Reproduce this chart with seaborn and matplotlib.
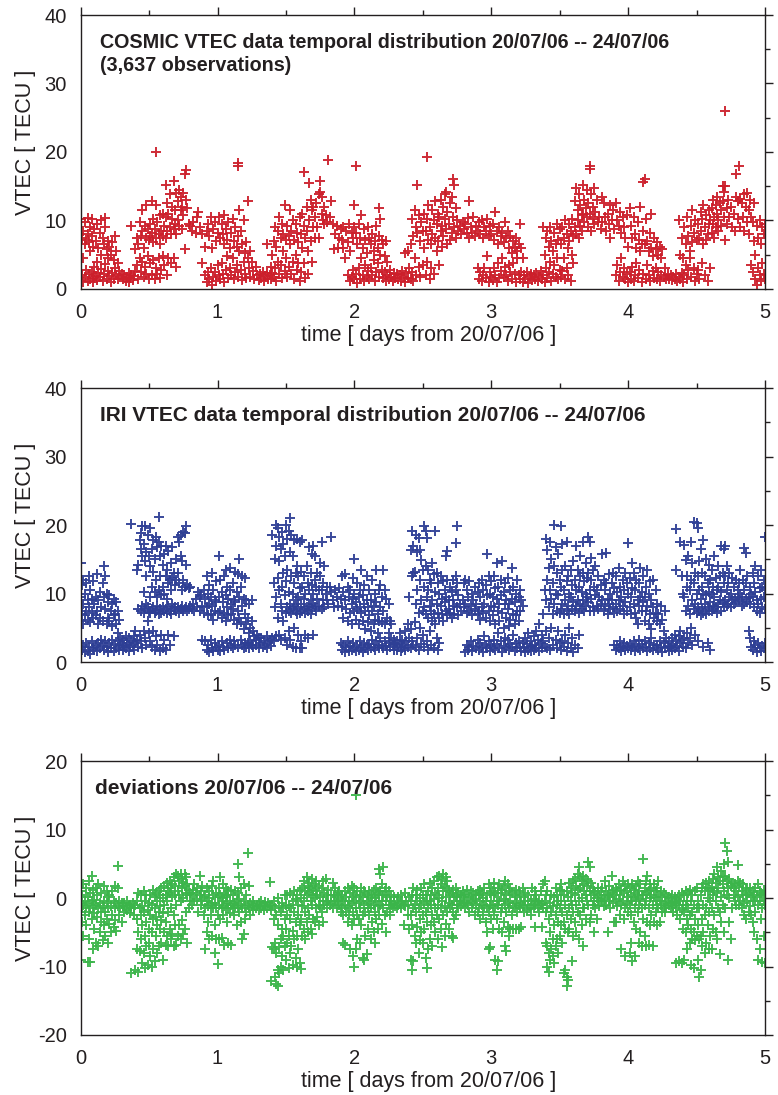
import matplotlib
matplotlib.use("Agg")
import matplotlib.pyplot as plt
import seaborn as sns
import pandas as pd
from matplotlib.ticker import MultipleLocator

cosmic_obs = [
(0.00,10.2),(0.01,7.5,2.0),(0.02,8.5,4.5,1.0),(0.03,9.8,6.5,1.8),(0.04,7.2,2.8),(0.05,10.3,8.0,1.2),(0.06,6.8,2.2),(0.07,9.0,5.5,1.5),(0.08,10.2,7.8,2.5),(0.09,6.2,1.0),(0.10,8.8,3.2,1.6),
(0.11,7.0,1.9),(0.12,9.5,4.0,1.3),(0.13,6.0,2.4),(0.14,8.2,1.7),(0.15,10.0,5.0,2.9),(0.16,7.4,1.2),(0.17,6.5,2.2),(0.18,10.3,9.0,3.6),(0.19,5.8,1.5),(0.20,7.0,4.5,2.6),
(0.21,6.2,1.9),(0.22,5.0,1.0),(0.23,6.8,2.3),(0.24,4.2,1.5),(0.25,7.7,3.0),(0.26,5.5,2.0),(0.27,3.8,1.4),(0.28,2.6),(0.29,1.8),(0.30,2.2),
(0.31,1.5),(0.32,2.0),(0.33,1.2),(0.34,1.8),(0.35,2.4,1.0),(0.36,1.6),(0.37,9.2,2.1),(0.38,1.3),(0.39,1.9),(0.40,5.8,2.6),
(0.41,7.5,3.5),(0.42,6.5,1.5),(0.43,9.8,4.5),(0.44,7.8,2.5),(0.45,11.5,8.5,4.0),(0.46,6.0,1.8),(0.47,9.2,3.2),(0.48,12.3,7.5,2.2),(0.49,8.8,4.8),(0.50,7.2,1.4),
(0.51,9.5,7.8,3.8),(0.52,12.8,8.2,2.0),(0.53,10.2,6.8,4.2),(0.54,8.8,1.5),(0.55,20.0,12.2,7.5,3.0),(0.56,9.8,2.2),(0.57,8.0,4.5),(0.58,10.8,6.5,1.6),(0.59,8.5,2.8),(0.60,11.0,7.8,4.8),
(0.61,9.2,3.5),(0.62,15.2,10.5,7.5),(0.63,12.5,8.5,2.0),(0.64,11.0,4.5),(0.65,13.8,9.0),(0.66,8.0,3.8),(0.67,12.0,10.2),(0.68,15.8,8.8,4.5),(0.69,11.5,9.5),(0.70,14.0,8.0,3.2),
(0.71,12.8,10.0),(0.72,14.5,9.2),(0.73,13.5,11.5),(0.74,12.0,8.8),(0.75,14.0,10.8),(0.76,16.8,5.8),(0.77,17.3,13.0),(0.78,11.8),(0.79,9.5),(0.80,9.2),
(0.81,8.5),(0.82,9.8),(0.84,8.2),(0.85,10.5),(0.86,11.2),(0.87,9.0),(0.89,8.0,3.8),
(0.91,6.2,2.0),(0.92,8.5,1.0),(0.93,9.5,2.5),(0.94,7.8,1.5),(0.95,10.5,3.0),(0.96,6.0,0.6),(0.97,8.8,1.8),(0.98,9.8,2.5),(0.99,7.0,1.2),(1.00,8.2,3.5),
(1.01,10.5,2.0),(1.02,7.5,1.4),(1.03,9.5,3.8),(1.04,8.0,2.2),(1.05,10.8,6.5,1.0),(1.06,8.8,2.8),(1.07,7.2,4.8),(1.08,9.8,1.6),(1.09,6.0,3.0),(1.10,8.2,2.0),
(1.11,10.2,4.5),(1.12,7.0,1.5),(1.13,9.0,2.5),(1.14,6.2,3.5),(1.15,18.4,17.9,7.8,1.8),(1.16,11.5,5.5),(1.17,8.5,2.8),(1.18,6.5,1.3),(1.19,10.0,4.0),(1.20,5.2,2.2),
(1.21,6.8,1.6),(1.22,12.8,4.5),(1.23,3.0),(1.24,5.5,1.8),(1.25,4.0),(1.26,2.6),(1.27,1.5),(1.28,3.2),(1.29,2.0),(1.30,1.3),
(1.31,2.2),(1.32,1.6),(1.33,2.5),(1.34,1.2),(1.35,1.9),(1.36,6.5,2.3),(1.37,1.5),(1.38,2.0),(1.39,3.2,1.4),(1.40,5.0,2.4),
(1.41,7.0,1.8),(1.42,9.0,3.0),(1.43,6.2,1.2),(1.44,8.5,4.0),(1.45,10.5,2.2),(1.46,7.5,3.5),(1.47,9.5,1.6),(1.48,8.0,5.5),(1.49,12.2,2.6),(1.50,7.2,4.5),
(1.51,9.2,1.8),(1.52,7.8,3.2),(1.53,11.5,6.5),(1.54,8.5,2.2),(1.55,10.0,4.0),(1.56,7.2,1.5),(1.57,9.5,5.0),(1.58,8.2,2.8),(1.59,6.8,3.8),(1.60,10.5,1.2),
(1.61,8.0,2.5),(1.62,11.0,6.0),(1.63,17.1,9.2,3.8),(1.64,7.5,1.6),(1.65,12.0,8.5),(1.66,5.5,2.2),(1.67,15.5,10.0),(1.68,13.0,7.0),(1.69,11.5,4.0),(1.70,12.0,9.0),
(1.71,10.5,7.5),(1.72,12.5),(1.73,9.0),(1.74,13.8,7.5),(1.75,15.8,14.2),(1.76,13.5,11.0),(1.77,10.0),(1.78,12.0,9.5),(1.79,10.8),(1.80,9.8),
(1.81,18.9),(1.82,10.5),(1.83,12.8),(1.84,9.5),(1.85,5.8),(1.86,8.0),(1.87,9.2),(1.88,6.0),(1.89,7.5),(1.90,8.8),
(1.91,7.2),(1.92,9.0,6.0),(1.93,4.5),(1.94,8.5),(1.95,6.8,2.0),(1.96,9.5),(1.97,5.5,1.2),(1.98,8.2,1.8),(1.99,7.5,2.8),(2.00,12.3,9.0,1.5),
(2.01,17.9,8.2,2.2),(2.02,6.5,0.8),(2.03,9.5,3.0),(2.04,7.5,1.5),(2.05,10.8,4.5),(2.06,6.0,2.0),(2.07,8.8,1.2),(2.08,7.2,3.5),(2.09,5.2,1.8),(2.10,9.0,2.6),
(2.11,7.5,1.5),(2.12,6.5,3.0),(2.13,8.0,2.0),(2.14,5.5,4.2),(2.15,7.0,1.2),(2.16,9.2,2.5),(2.17,6.0,3.8),(2.18,11.8,7.8,1.8),(2.19,10.2,5.0),(2.20,7.2,2.8),
(2.21,6.5,1.6),(2.22,4.8,2.5),(2.23,7.0,1.2),(2.24,4.0,2.0),(2.25,1.5),(2.26,2.8),(2.27,1.8),(2.28,1.2),(2.29,2.4),(2.30,1.6),
(2.31,2.2),(2.32,1.4),(2.33,2.0),(2.34,1.2),(2.35,2.6),(2.36,1.8),(2.37,5.2,1.0),(2.38,2.3),(2.39,5.5,1.6),(2.40,3.0),
(2.41,6.5,1.5),(2.42,10.2,2.5),(2.43,7.8,1.2),(2.44,11.5,4.5),(2.45,9.0,2.0),(2.46,15.2,8.2),(2.47,10.8,3.2),(2.48,7.0,1.8),(2.49,9.8),(2.50,8.5,3.5),
(2.51,11.0,6.0),(2.52,8.5,2.0),(2.53,19.3,10.2,4.0),(2.54,12.2,7.2),(2.55,9.0,1.5),(2.56,6.5,3.0),(2.57,11.5,8.0),(2.58,10.0,2.2),(2.59,12.8,7.5),(2.60,9.5,5.5),
(2.61,11.0,7.0),(2.62,10.5,3.5),(2.63,13.0,8.5),(2.64,9.2,6.2),(2.65,12.0,7.8),(2.66,13.8,10.2),(2.67,14.2,8.8),(2.68,11.2,6.5),(2.69,9.5),(2.70,12.5,7.2),
(2.71,13.5,8.2),(2.72,16.0,10.5),(2.73,15.2,9.0),(2.74,11.8,7.5),(2.75,10.0),(2.76,8.5),(2.77,9.2),(2.78,8.0),(2.79,9.8),(2.80,8.8),
(2.81,9.5),(2.82,8.2),(2.83,10.3),(2.84,12.9,7.5),(2.85,9.0),(2.86,8.2),(2.87,10.5),(2.88,7.8),(2.89,9.2),(2.90,8.5,3.0),
(2.91,9.8,1.5),(2.92,8.0,2.5),(2.93,10.0,1.2),(2.94,7.5,2.0),(2.95,9.0,3.0),(2.96,8.5,1.6),(2.97,10.2,4.8),(2.98,7.8,1.0),(2.99,9.2,2.5),(3.00,8.0,1.8),
(3.01,9.5,1.3),(3.02,7.2,3.0),(3.03,11.2,2.0),(3.04,8.5,1.0),(3.05,6.5,3.8),(3.06,9.0,1.6),(3.07,7.8,2.6),(3.08,8.2,4.5),(3.09,6.8,1.8),(3.10,9.8,3.2),
(3.11,7.5,2.0),(3.12,8.5,1.2),(3.13,6.0,3.5),(3.14,7.8,2.5),(3.15,5.2,1.5),(3.16,7.0,3.8),(3.17,6.2,2.2),(3.18,7.5,1.0),(3.19,5.5,4.5),(3.20,6.5,2.0),
(3.21,9.5,1.5),(3.22,6.0,2.5),(3.23,4.5,1.0),(3.24,2.0),(3.25,1.4),(3.26,2.5),(3.27,0.8),(3.28,1.8),(3.29,2.2),(3.30,1.3),
(3.31,2.0),(3.32,1.5),(3.33,2.4),(3.34,1.2),(3.35,1.8),(3.36,2.6),(3.37,1.4),(3.38,9.0,2.0),(3.39,5.0,1.0),(3.40,7.5,3.0),
(3.41,8.5,1.6),(3.42,6.2,2.5),(3.43,9.0,4.0),(3.44,7.0,1.2),(3.45,5.5,2.2),(3.46,8.2,3.5),(3.47,6.5,1.8),(3.48,9.5,4.5),(3.49,7.2,1.4),(3.50,8.8,2.8),
(3.51,6.5,1.8),(3.52,9.0,2.6),(3.53,7.5,4.5),(3.54,10.0,1.5),(3.55,8.0,3.0),(3.56,6.0,2.0),(3.57,9.5,7.0),(3.58,8.5,1.2),(3.59,10.2,5.0),(3.60,7.8,3.8),
(3.61,12.8,9.0),(3.62,14.8,8.0),(3.63,11.5,10.0),(3.64,13.8,7.5),(3.65,12.2,9.2),(3.66,10.8,8.5),(3.67,15.2,11.0),(3.68,13.0,9.8),(3.69,11.8),(3.70,14.5,10.5),
(3.71,12.5,9.0),(3.72,18.0,17.5,11.0),(3.73,13.8,8.5),(3.74,12.0,10.2),(3.75,14.8,9.5),(3.76,11.2),(3.77,13.0),(3.78,9.8),(3.79,10.5),(3.80,8.8),
(3.81,13.5,9.8),(3.82,12.5),(3.83,10.5),(3.84,8.5),(3.85,11.0),(3.86,9.5),(3.87,12.2,7.5),(3.88,10.0),(3.89,11.5),(3.90,8.8),
(3.91,12.5,2.0),(3.92,10.0,3.5),(3.93,9.2,1.2),(3.94,11.2,2.5),(3.95,8.2,4.5),(3.96,10.5,1.8),(3.97,9.0,3.0),(3.98,7.5,1.4),(3.99,10.8,2.2),(4.00,6.2,1.0),
(4.01,11.8,2.5),(4.02,9.2,1.5),(4.03,7.5,3.2),(4.04,10.5,1.2),(4.05,8.0,2.0),(4.06,6.0,3.8),(4.07,9.8,1.6),(4.08,7.2,2.8),(4.09,12.0,5.5),(4.10,6.5,1.0),
(4.11,15.6,8.5,2.2),(4.12,16.0,6.5),(4.13,10.2,1.4),(4.14,7.0,3.5),(4.15,5.5,2.0),(4.16,8.2,1.2),(4.17,11.0,6.0),(4.18,4.8,2.6),(4.19,7.5,1.6),(4.20,5.8,3.0),
(4.21,6.8,1.5),(4.22,5.0,2.5),(4.23,6.2,1.2),(4.24,4.5,2.0),(4.25,5.8),(4.26,1.8),(4.27,3.0),(4.28,1.4),(4.29,2.2),(4.30,1.5),
(4.31,2.0),(4.32,1.3),(4.33,1.8),(4.34,1.5),(4.35,2.2),(4.36,1.2),(4.37,10.0,1.8),(4.38,5.0,1.4),(4.39,7.5,2.4),(4.40,4.5,1.0),
(4.41,9.0,2.0),(4.42,6.5,3.5),(4.43,10.5,1.5),(4.44,7.8,2.8),(4.45,5.5,4.5),(4.46,9.2,1.8),(4.47,11.5,6.8),(4.48,8.2,3.0),(4.49,10.0,1.2),(4.50,7.2,2.2),
(4.51,9.5,2.8),(4.52,7.5,1.5),(4.53,11.2,8.5),(4.54,10.2,3.8),(4.55,12.2,6.5),(4.56,9.0,2.0),(4.57,10.8,7.2),(4.58,8.0,1.2),(4.59,11.5,9.5),(4.60,10.0,3.0),
(4.61,11.8,8.2),(4.62,9.5,13.0),(4.63,10.5,7.5),(4.64,12.2,9.0),(4.65,11.0,13.5),(4.66,8.5,10.0),(4.67,12.5),(4.68,11.5,9.2),(4.69,15.0,12.8),(4.70,14.2,10.5),
(4.71,26.0,15.0,7.2),(4.72,11.8,9.5),(4.73,13.0),(4.74,10.5),(4.75,12.0),(4.76,9.0),(4.77,11.0),(4.78,8.5),(4.79,16.8,13.5),(4.80,12.8,10.2),
(4.81,17.9),(4.82,13.2,9.0),(4.83,12.5),(4.84,10.5),(4.85,13.8,8.5),(4.86,12.0),(4.87,14.0,9.8),(4.88,11.5,8.0),(4.89,13.0),(4.90,10.5,3.5),
(4.91,9.8,2.5),(4.92,12.5,7.0),(4.93,5.0,1.5),(4.94,9.2,0.6),(4.95,7.5,3.0),(4.96,10.0,2.0),(4.97,6.5,1.2),(4.98,9.0,3.8),(4.99,8.0,2.2),(5.00,9.5,1.5),
]

iri_obs = [
(0.00,14.5,9.5,6.0,2.2),(0.01,11.2,7.0,1.8),(0.02,12.0,8.5,5.5,2.5),(0.03,10.0,6.8,1.4),(0.04,11.5,7.5,2.8),(0.05,9.0,6.2,1.6),(0.06,12.5,8.0,2.2),(0.07,10.5,5.8,1.2),(0.08,9.2,7.2,3.0),(0.09,11.8,6.5,2.0),(0.10,8.5,1.8),
(0.11,9.5,6.8,2.5),(0.12,12.8,7.5,1.6),(0.13,9.0,5.5,2.8),(0.14,10.2,6.5,2.0),(0.15,8.0,3.2),(0.16,11.5,6.0,2.4),(0.17,14.0,9.5,1.8),(0.18,12.5,7.8,3.0),(0.19,10.0,5.5,2.2),(0.20,8.8,6.5,1.5),
(0.21,9.8,6.0,2.8),(0.22,7.5,2.0),(0.23,8.5,5.2,3.2),(0.24,9.2,6.8,1.6),(0.25,7.0,2.5),(0.26,8.8,5.5,2.0),(0.27,7.5,4.2,3.0),(0.28,6.2,1.8),(0.29,3.5,2.4),(0.30,2.8),
(0.31,3.2,1.8),(0.32,2.5),(0.33,3.8,2.0),(0.34,2.8),(0.35,3.5,1.6),(0.36,2.2),(0.37,20.2,3.0),(0.38,2.5),(0.39,3.8,1.8),(0.40,4.5,2.8),
(0.41,13.5,3.2),(0.42,14.2,7.8,2.2),(0.43,17.8,4.0),(0.44,18.8,16.5,7.5,3.0),(0.45,19.8,15.5,8.2,2.0),(0.46,17.2,10.2,7.2,4.5),(0.47,19.9,14.8,7.8,3.5),(0.48,16.0,12.5,8.5,2.5),(0.49,18.5,8.0,6.0),(0.50,15.5,7.5,4.2),
(0.51,19.5,14.0,9.5,7.2,3.0),(0.52,16.5,11.0,7.8,2.2),(0.53,17.8,13.2,8.0,4.5),(0.54,15.0,10.2,7.2,1.8),(0.55,18.2,12.0,7.5,3.8),(0.56,16.8,9.5,8.2,2.5),(0.57,21.2,17.5,10.5,7.0),(0.58,15.5,12.5,7.8,1.6),(0.59,17.0,9.8,7.2,4.0),(0.60,14.2,11.0,8.0,2.0),
(0.61,15.8,10.0,7.5,3.2),(0.62,17.0,12.5,7.8,1.8),(0.63,13.5,9.2,7.2),(0.64,16.2,11.5,8.2,4.0),(0.65,12.0,7.5,2.5),(0.66,14.5,10.5,7.0),(0.67,16.8,12.2,8.5),(0.68,13.0,7.8,3.8),(0.69,11.2,8.0),(0.70,15.0,12.0,7.5),
(0.71,18.2,13.0,8.0),(0.72,17.5,11.5,7.2),(0.73,18.5,15.5,7.8),(0.74,14.8,10.5,8.2),(0.75,19.0,12.0,7.5),(0.76,18.8,11.0,7.8),(0.77,19.8,14.2,8.0),(0.78,11.2,7.5),(0.79,10.8,7.8),(0.80,11.0,8.2),
(0.81,7.8),(0.82,8.5),(0.83,7.5),(0.84,9.2),(0.85,8.0),(0.86,10.2),(0.87,9.5,7.5),(0.88,9.8),(0.89,8.2,3.2),(0.90,10.5,7.2),
(0.91,9.2,3.0),(0.92,12.5,8.0,1.8),(0.93,10.0,6.8,2.5),(0.94,11.2,8.5,1.4),(0.95,9.5,7.0,3.2),(0.96,13.0,8.2,2.0),(0.97,10.5,6.2,1.6),(0.98,9.0,7.5,2.8),(0.99,11.8,8.8,2.2),(1.00,7.2,1.8),
(1.01,15.5,9.5,2.5),(1.02,12.0,7.5,1.6),(1.03,10.2,6.5,3.0),(1.04,8.8,2.2),(1.05,12.5,7.2,1.8),(1.06,13.5,9.8,6.0),(1.07,11.0,8.0,2.8),(1.08,9.2,6.8,2.0),(1.09,13.8,10.5,3.2),(1.10,8.5,7.0,2.4),
(1.11,11.5,7.8,2.0),(1.12,9.0,6.2,3.0),(1.13,13.2,8.8,2.5),(1.14,10.2,5.5),(1.15,12.8,7.5,2.2),(1.16,15.0,9.5,6.5),(1.17,11.0,5.8,3.2),(1.18,12.5,8.2,2.5),(1.19,9.2,4.8,2.0),(1.20,12.2,7.0,2.8),
(1.21,9.0,5.5,2.2),(1.22,6.5,2.8),(1.23,8.5,4.2,2.0),(1.24,5.0,3.0),(1.25,9.0,6.0,2.5),(1.26,4.5,2.2),(1.27,3.8),(1.28,3.2,2.5),(1.29,4.0),(1.30,3.5,2.0),
(1.31,2.8),(1.32,3.5),(1.33,2.2),(1.34,3.0),(1.35,2.5),(1.36,3.8,2.0),(1.37,2.8),(1.38,3.2),(1.39,2.4),(1.40,18.6,3.5),
(1.41,11.5,3.0),(1.42,15.0,8.0),(1.43,20.0,17.0,9.5,3.8),(1.44,19.5,12.2,6.5),(1.45,18.2,14.8,10.5,4.0),(1.46,16.5,8.5,3.2),(1.47,19.0,11.0,7.5),(1.48,17.2,13.0,6.0),(1.49,15.5,9.8,3.5),(1.50,20.0,11.8,7.2),
(1.51,18.0,13.5,8.0,2.5),(1.52,19.2,10.2,7.5,4.5),(1.53,21.0,16.0,8.5,3.2),(1.54,18.5,12.5,7.2),(1.55,15.5,10.0,7.8,2.2),(1.56,17.8,11.5,8.2,5.0),(1.57,13.0,9.0,7.5,2.0),(1.58,18.0,14.0,7.0),(1.59,12.5,9.5,8.0,4.0),(1.60,17.5,10.8,7.2,2.0),
(1.61,13.2,8.5,3.0),(1.62,17.8,11.0,7.5,2.0),(1.63,12.5,9.2,7.8),(1.64,10.0,7.2,4.0),(1.65,14.0,8.0),(1.66,11.5,7.5,3.5),(1.67,16.8,10.5,8.2),(1.68,13.0,9.0,7.0),(1.69,15.8,11.2,7.8),(1.70,17.0,10.0,8.5,4.0),
(1.71,15.5,12.0,8.0),(1.72,11.0,7.5),(1.73,13.0,9.2),(1.74,10.5,8.2),(1.75,14.5,12.5),(1.76,17.5,10.5,7.8),(1.77,11.5,9.0),(1.78,14.0,8.0),(1.79,10.0),(1.80,11.0,9.0),
(1.81,8.5),(1.82,11.0),(1.83,18.2,10.2),(1.84,9.0),(1.85,8.0),(1.86,10.5),(1.87,9.5),(1.88,8.2),(1.89,10.8),(1.90,9.2,2.8),
(1.91,12.5,8.0,1.8),(1.92,10.2,6.5,2.5),(1.93,12.8,9.0,1.4),(1.94,7.8,2.2),(1.95,11.0,6.0,3.0),(1.96,9.5,1.6),(1.97,10.5,7.2,2.4),(1.98,8.5,5.5,1.8),(1.99,12.2,9.2,2.8),(2.00,15.0,10.0,7.5,2.0),
(2.01,8.8,6.2,1.6),(2.02,11.5,7.8,2.5),(2.03,9.5,5.5,1.8),(2.04,10.5,8.0,3.0),(2.05,13.5,7.2,2.2),(2.06,9.8,6.0,1.5),(2.07,11.2,8.5,2.8),(2.08,7.5,4.8,2.0),(2.09,12.5,9.0,2.5),(2.10,8.0,5.8,1.8),
(2.11,10.5,6.8,2.6),(2.12,9.0,4.5,2.0),(2.13,12.0,7.5,3.2),(2.14,8.2,5.5,2.2),(2.15,10.0,6.2,1.8),(2.16,13.5,8.8,3.0),(2.17,7.0,4.2,2.5),(2.18,10.5,6.0,2.0),(2.19,11.2,8.0,3.5),(2.20,9.5,5.8,2.4),
(2.21,13.5,7.5,2.0),(2.22,10.5,5.5,3.0),(2.23,9.2,2.4),(2.24,6.5,1.8),(2.25,8.5,4.2,2.8),(2.26,6.0,2.2),(2.27,5.5,3.5),(2.28,2.5),(2.29,3.2,1.8),(2.30,2.6),
(2.31,3.0,1.8),(2.32,2.2),(2.33,4.2,2.8),(2.34,1.6),(2.35,3.2,2.0),(2.36,2.5),(2.37,4.5,1.8),(2.38,3.0),(2.39,5.5,2.2),(2.40,9.5,3.5),
(2.41,16.4,4.8,2.0),(2.42,19.1,12.5,3.0),(2.43,17.0,13.0,2.5),(2.44,13.2,5.8),(2.45,18.5,8.5,2.2),(2.46,16.0,10.5,3.5),(2.47,18.1,7.2,1.8),(2.48,16.4,12.0,5.0),(2.49,14.9,9.0,2.6),(2.50,13.5,7.5,4.0),
(2.51,19.8,11.0,8.0,2.2),(2.52,19.2,14.0,7.0),(2.53,18.1,9.5,3.0),(2.54,13.5,10.5,6.5,1.8),(2.55,12.0,8.2,4.5),(2.56,11.5,7.5,2.5),(2.57,14.5,9.0,6.0),(2.58,12.8,7.0,2.0),(2.59,19.2,10.2,5.5),(2.60,13.0,8.5,3.5),
(2.61,11.5,7.2,1.8),(2.62,10.0,6.5,2.8),(2.63,12.5,8.2),(2.64,9.2,7.0),(2.65,11.8,6.0),(2.66,10.5,8.8),(2.67,15.5,9.5,7.5),(2.68,16.2,12.0,6.8),(2.69,9.0,7.8),(2.70,11.0,7.2),
(2.71,10.2,6.5),(2.72,12.0,9.0),(2.73,8.2,7.0),(2.74,17.4,12.5,10.5),(2.75,19.9,11.5,8.0),(2.76,9.8,6.8),(2.77,8.5),(2.78,7.5),(2.79,9.0),(2.80,11.5,8.0),
(2.81,12.0,8.5,1.5),(2.82,10.5,7.2,2.5),(2.83,9.5,1.8),(2.84,11.8,7.5,2.2),(2.85,8.2,3.0),(2.86,10.0,6.8,1.6),(2.87,9.0,2.4),(2.88,11.0,7.8),(2.89,8.5,2.0),(2.90,10.2,7.0,3.2),
(2.91,11.5,7.5,1.8),(2.92,9.5,6.2,2.8),(2.93,12.0,8.0,2.2),(2.94,10.5,7.2,1.5),(2.95,8.5,3.8),(2.96,11.2,6.5,2.5),(2.97,15.8,9.8,2.0),(2.98,12.5,7.5,3.0),(2.99,10.0,6.0,1.6),(3.00,11.8,8.2,2.4),
(3.01,9.5,6.8,2.0),(3.02,12.5,8.0,3.2),(3.03,10.8,5.5,1.8),(3.04,14.5,9.2,2.6),(3.05,11.0,7.5,4.2),(3.06,8.5,6.0,2.0),(3.07,12.0,9.8,3.0),(3.08,14.8,7.2,1.5),(3.09,10.2,5.0,2.4),(3.10,11.5,8.5,3.5),
(3.11,9.0,6.5,2.0),(3.12,12.2,7.8,3.2),(3.13,8.5,5.2,1.8),(3.14,10.5,6.2,2.6),(3.15,13.7,9.2,2.2),(3.16,11.0,7.0,4.0),(3.17,8.8,5.5,1.6),(3.18,10.0,6.8,2.8),(3.19,12.0,7.5,2.0),(3.20,9.5,6.0,3.0),
(3.21,10.5,7.5,2.2),(3.22,9.0,1.6),(3.23,8.2,2.8),(3.24,2.0),(3.25,3.5,1.5),(3.26,2.6),(3.27,4.2,1.8),(3.28,2.2),(3.29,3.0,1.6),(3.30,2.4),
(3.31,3.8,1.8),(3.32,2.5),(3.33,4.5,2.0),(3.34,3.2),(3.35,5.5,1.6),(3.36,2.8),(3.37,4.0,2.0),(3.38,7.0,3.0),(3.39,10.5,2.2),(3.40,17.9,9.0,4.5),
(3.41,16.4,12.0,2.0),(3.42,13.7,8.0,3.5),(3.43,17.5,10.5,1.8),(3.44,15.0,9.2,5.0),(3.45,11.5,7.0,2.5),(3.46,20.0,14.0,8.5),(3.47,16.8,10.0,3.2),(3.48,13.0,7.5,2.0),(3.49,15.8,9.8,4.5),(3.50,12.0,7.2,2.8),
(3.51,19.8,11.0,7.8,1.8),(3.52,17.2,13.5,8.5,3.0),(3.53,10.5,7.0,2.2),(3.54,14.0,9.0,4.0),(3.55,17.5,11.8,7.5,1.6),(3.56,12.5,8.2,2.8),(3.57,10.0,7.0,5.0),(3.58,13.5,9.5,2.0),(3.59,11.2,7.8,3.5),(3.60,14.8,8.8,1.5),
(3.61,12.0,7.5,2.5),(3.62,17.0,10.5,8.2),(3.63,13.5,9.0,2.0),(3.64,11.0,7.2,4.0),(3.65,15.5,12.5,8.5),(3.66,10.2,7.8),(3.67,17.5,13.0,9.0),(3.68,11.8,7.5),(3.69,14.5,10.0,8.2),(3.70,12.2,9.5),
(3.71,18.3,13.0,8.8),(3.72,17.5,10.5,7.5),(3.73,15.2,12.0,9.2),(3.74,13.5,8.0),(3.75,11.0,7.5),(3.76,14.0,9.8),(3.77,10.5,8.2),(3.78,12.5,7.8),(3.79,9.5),(3.80,11.2,8.5),
(3.81,15.8,9.0),(3.82,12.0,7.5),(3.83,10.5,8.2),(3.84,15.9,11.5),(3.85,9.2,7.0),(3.86,12.8,8.5),(3.87,10.0,7.8),(3.88,11.5,9.0),(3.89,13.0,8.0),(3.90,10.8,7.2,2.5),
(3.91,12.5,8.5,1.8),(3.92,10.2,7.5,2.5),(3.93,13.8,9.0,2.0),(3.94,11.0,7.8,3.0),(3.95,9.5,1.6),(3.96,12.0,8.2,2.2),(3.97,10.5,7.0,2.8),(3.98,13.0,8.8,1.8),(3.99,11.5,7.5,2.4),(4.00,17.4,10.0,2.0),
(4.01,12.2,8.0,2.6),(4.02,9.5,7.0,1.8),(4.03,14.5,10.8,2.2),(4.04,13.0,8.5,3.0),(4.05,10.5,7.2,1.6),(4.06,12.0,6.5,2.4),(4.07,9.0,5.5,2.0),(4.08,11.5,8.2,3.2),(4.09,13.8,9.5,1.8),(4.10,10.2,7.5,2.6),
(4.11,12.5,8.8,2.0),(4.12,9.5,6.0,3.0),(4.13,11.0,7.5,2.2),(4.14,13.5,8.2,1.6),(4.15,10.0,5.5,2.8),(4.16,11.8,7.0,2.0),(4.17,9.0,4.8,3.5),(4.18,12.0,8.0,1.8),(4.19,6.5,2.5),(4.20,10.5,7.2,2.0),
(4.21,8.5,6.0,2.5),(4.22,7.0,1.8),(4.23,5.5,3.0),(4.24,8.2,2.2),(4.25,6.2,1.5),(4.26,4.5,2.8),(4.27,7.5,2.0),(4.28,3.5),(4.29,2.4),(4.30,3.0,1.6),
(4.31,2.2),(4.32,3.5,1.8),(4.33,2.6),(4.34,4.0,2.0),(4.35,19.4,13.5,3.0),(4.36,2.4),(4.37,3.8,1.6),(4.38,17.5,4.5,2.8),(4.39,12.5,3.2),(4.40,10.0,2.2),
(4.41,17.1,9.5,3.5),(4.42,14.9,7.5,2.0),(4.43,12.5,11.0,4.2),(4.44,15.5,8.2,2.8),(4.45,10.5,7.0,3.5),(4.46,17.5,12.0,5.0),(4.47,14.5,9.0,2.5),(4.48,20.5,11.5,7.8),(4.49,13.0,8.5,4.0),(4.50,20.3,10.0,7.2),
(4.51,19.5,12.5,8.0,3.0),(4.52,14.8,10.5,7.5),(4.53,16.5,9.2,6.8),(4.54,13.0,11.0,7.8),(4.55,17.8,10.0,7.2,2.2),(4.56,12.5,8.5),(4.57,15.0,9.8,7.0),(4.58,11.5,8.0,2.8),(4.59,14.2,10.2,7.5),(4.60,12.0,8.8,1.8),
(4.61,13.5,10.0,7.5),(4.62,11.0,8.2),(4.63,15.5,9.5,7.8),(4.64,12.2,8.0),(4.65,10.5,7.2),(4.66,14.0,11.0,8.5),(4.67,12.5,9.0),(4.68,17.0,10.2,7.5),(4.69,13.0,8.8),(4.70,16.5,11.5,8.0),
(4.71,17.0,12.5,9.0),(4.72,14.0,10.5,8.2),(4.73,11.5,8.5),(4.74,13.0,9.5),(4.75,10.0,8.0),(4.76,12.2,9.0),(4.77,11.0,8.5),(4.78,9.2),(4.79,12.0,8.8),(4.80,10.5,9.5),
(4.81,11.5,9.0),(4.82,13.5,10.0),(4.83,9.5,8.2),(4.84,12.0),(4.85,16.6,10.5,8.5),(4.86,15.9,11.5,9.2),(4.87,12.5,8.8),(4.88,9.5,4.5),(4.89,11.0,8.5,3.5),(4.90,10.0,2.2),
(4.91,13.0,9.5,1.8),(4.92,11.5,8.0,3.0),(4.93,14.0,10.2,2.5),(4.94,9.0,7.5,1.5),(4.95,12.5,8.5,2.8),(4.96,10.8,7.2,2.0),(4.97,13.5,9.2,1.6),(4.98,11.0,8.0,2.4),(4.99,12.0,9.5,2.0),(5.00,18.3,10.5,7.8,2.8),
]

dev_obs = [
(0.00,-9.0,-2.0,1.0),(0.01,-3.5,0.5,-1.5),(0.02,-5.5,-1.0,2.0),(0.03,-0.5,-2.5),(0.04,1.5,-4.0,-1.2),(0.05,-9.3,-0.8,0.2),(0.06,-6.0,-2.0,2.5),(0.07,-9.4,-1.5,0.8),(0.08,3.2,-3.0,-0.5),(0.09,-7.5,-1.2,1.2),(0.10,-4.5,-0.3,-2.2),
(0.11,-6.5,-1.0,1.5),(0.12,-2.8,0.5),(0.13,-7.0,-1.5,2.0),(0.14,-5.0,-0.8),(0.15,-3.5,0.8,-2.0),(0.16,-6.2,-1.2),(0.17,-4.0,1.8,-0.5),(0.18,-5.5,-2.0),(0.19,-3.0,1.0,-0.8),(0.20,-6.5,-1.5,0.2),
(0.21,-3.8,0.5),(0.22,-5.0,-1.2),(0.23,-2.5,1.0),(0.24,-4.2,-0.5),(0.25,-3.2,1.8,-1.5),(0.26,-4.8,-0.8),(0.27,4.7,-1.2,1.5),(0.28,-2.5,-0.5),(0.29,-1.5),(0.30,-0.8,-3.5),
(0.31,-1.2),(0.32,-0.8,-2.0),(0.33,-1.5),(0.34,-0.5,-1.8),(0.35,-1.2),(0.36,-1.0,-2.2),(0.37,-11.0,-1.5),(0.38,-0.8),(0.39,-1.5,-2.5),(0.40,-10.5,-1.0),
(0.41,-7.5,-3.0,-0.5),(0.42,-10.8,-5.0,0.8),(0.43,-7.8,-1.5),(0.44,-6.0,-2.5,0.5),(0.45,-9.5,-4.0,-1.2),(0.46,-8.0,-2.0,1.0),(0.47,-10.2,-5.5,-0.5),(0.48,-7.0,-3.5,0.5),(0.49,-9.8,-1.8),(0.50,-6.5,-4.5,-0.8),
(0.51,-8.5,-2.5,0.5),(0.52,-10.0,-5.0,-1.0),(0.53,-7.5,-3.0,1.2),(0.54,-9.2,-1.5,0.2),(0.55,-5.5,-2.8,0.8),(0.56,-8.0,-4.0,-0.5),(0.57,-7.0,-2.0,1.0),(0.58,-4.5,-1.2,0.5),(0.59,-6.5,-3.2,1.5),(0.60,-9.0,-2.2,0.0),
(0.61,-5.0,-1.0,1.8),(0.62,-6.8,-3.5,0.5),(0.63,-5.5,-0.5,2.2),(0.64,-7.0,-2.0,1.0),(0.65,-4.5,0.8,2.5),(0.66,-6.0,-1.5,1.5),(0.67,-5.2,0.2,2.0),(0.68,-7.0,-2.5,3.0),(0.69,-4.0,0.5,1.8),(0.70,-6.8,-1.0,3.5),
(0.71,-5.5,1.0,3.2),(0.72,-4.0,0.5,2.5),(0.73,-6.0,-0.5,3.5),(0.74,-3.2,1.5,2.8),(0.75,-5.2,0.0,2.2),(0.76,-4.5,1.8,3.5),(0.77,-2.0,0.8,3.0),(0.78,-6.5,0.5,2.0),(0.79,-1.5,1.2),(0.80,-0.5,0.8),
(0.81,0.5,-1.0),(0.82,1.2),(0.83,-0.5,2.0),(0.84,0.8),(0.85,-0.2,1.5),(0.86,-2.0),(0.87,3.2,0.5),(0.88,-1.0,1.0),(0.89,-0.5,1.8),(0.90,-2.5,0.2),
(0.91,-7.5,-1.5,0.5),(0.92,-5.0,-0.5,1.5),(0.93,-3.5,-1.2),(0.94,-6.0,0.0,1.0),(0.95,-2.5,-1.0),(0.96,-5.5,-0.8,1.8),(0.97,-1.5,0.5,2.5),(0.98,-8.0,-4.0,-0.8),(0.99,-6.0,-1.5,0.8),(1.00,-9.6,-2.5,0.2),
(1.01,-6.0,-1.0,1.5),(1.02,-3.0,0.5,3.0),(1.03,-5.8,-1.5,0.0),(1.04,-2.5,-0.5,2.0),(1.05,-6.8,-1.2,0.8),(1.06,-1.5,0.2,1.5),(1.07,-3.5,-0.8,0.5),(1.08,-6.5,-1.5,1.0),(1.09,-2.2,-0.5),(1.10,-6.8,-1.0,1.2),
(1.11,-1.5,0.5),(1.12,-2.5,-0.8),(1.13,-1.2,1.0),(1.14,-4.0,-0.5),(1.15,5.0,-1.5,0.8),(1.16,3.0,-2.0,-0.2),(1.17,-3.5,-1.0,1.5),(1.18,-6.0,-1.5),(1.19,-5.2,-0.5,2.0),(1.20,-3.0,-1.2),
(1.21,-2.0,0.5),(1.22,6.6,-1.0),(1.23,-1.5,1.8),(1.24,-2.5,-0.8),(1.25,-1.2),(1.26,-1.8,-0.5),(1.27,-1.0),(1.28,-1.5),(1.29,-1.2),(1.30,-0.8,-1.8),
(1.31,-1.2),(1.32,-1.5,-0.5),(1.33,-1.0),(1.34,-1.8),(1.35,-1.2,-0.6),(1.36,-1.5),(1.37,-0.8),(1.38,2.3,-1.2),(1.39,-12.1,-1.8),(1.40,-7.2,-1.0),
(1.41,-7.5,-3.0,-0.5),(1.42,-11.5,-6.5,-1.5),(1.43,-12.5,-8.0,-2.5),(1.44,-12.8,-10.5,-4.0,0.0),(1.45,-11.0,-7.2,-1.2),(1.46,-10.0,-6.0,-2.0),(1.47,-8.5,-4.5,-0.8),(1.48,-10.5,-5.5,-1.5),(1.49,-7.0,-3.0,0.5),(1.50,-9.0,-4.5,-1.0),
(1.51,-6.5,-2.5,0.5),(1.52,-10.2,-5.5,-1.2),(1.53,-8.0,-3.0,0.8),(1.54,-7.0,-1.5),(1.55,-9.8,-4.8,-0.5),(1.56,-6.0,-2.0,1.0),(1.57,-8.8,-3.5,-0.2),(1.58,-10.0,-5.5,0.5),(1.59,-7.5,-2.5,-1.0),(1.60,-9.5,-4.0,1.2),
(1.61,-10.3,-3.0,0.0),(1.62,-5.5,-1.2,1.5),(1.63,-4.5,-0.5,2.5),(1.64,-6.0,-2.0,1.0),(1.65,-3.5,0.5,3.0),(1.66,-5.0,-1.5,1.8),(1.67,-2.5,0.8,2.2),(1.68,-4.5,-0.5,1.5),(1.69,-5.2,-1.0,2.8),(1.70,-3.0,0.5,1.2),
(1.71,-3.5,0.0,2.0),(1.72,-1.5,1.0,2.5),(1.73,-2.8,0.5),(1.74,-4.0,-1.0,1.8),(1.75,-1.2,0.2),(1.76,-2.0,1.5),(1.77,-3.5,-0.5,2.5),(1.78,-1.0,0.8),(1.79,-0.5,2.8),(1.80,-1.5,0.5),
(1.81,-0.5,1.2),(1.82,-1.0),(1.83,-0.8,0.5),(1.84,2.2,-1.5),(1.85,0.5),(1.86,-0.5,1.5),(1.87,-1.2,0.2),(1.88,0.8,-0.5),(1.89,-1.0,1.0),(1.90,-0.2,-2.0),
(1.91,-1.5,0.5),(1.92,-6.5,-2.5,-0.5),(1.93,-6.8,-1.0,1.0),(1.94,-2.0,0.2),(1.95,-3.5,-1.2,1.5),(1.96,-2.5,-0.5),(1.97,-7.5,-1.5,0.8),(1.98,-4.0,-0.8,1.8),(1.99,-8.5,-2.0,0.2),(2.00,-10.0,-3.0,-0.5,1.5),
(2.01,15.0,-7.5,-1.5,0.5),(2.02,-6.0,-2.5,1.0),(2.03,-3.0,-0.8),(2.04,-6.5,-1.5,0.5),(2.05,-4.0,-0.5,1.5),(2.06,-8.8,-2.5,0.2),(2.07,-9.0,-1.0,1.0),(2.08,-5.5,-2.0,0.8),(2.09,-8.2,-0.5),(2.10,-4.5,-1.5,0.5),
(2.11,-2.5,-0.8,1.0),(2.12,-6.0,-1.5,0.2),(2.13,-3.5,0.5),(2.14,-5.0,-1.0,1.2),(2.15,-6.5,-2.0,0.0),(2.16,-3.0,-0.5,1.5),(2.17,-4.5,-1.2,0.8),(2.18,4.2,-2.5,0.5),(2.19,3.5,-1.0,1.0),(2.20,-3.8,-0.5,2.0),
(2.21,4.5,-1.5,0.5),(2.22,-2.5,1.0),(2.23,-5.0,-0.5,1.5),(2.24,-2.0,0.2),(2.25,-1.0,1.0),(2.26,-2.5,-0.5),(2.27,-1.0,0.5),(2.28,-1.5),(2.29,-0.8,0.2),(2.30,-1.2),
(2.31,-0.5,-1.5),(2.32,-1.0,0.2),(2.33,-0.8),(2.34,-1.5,0.5),(2.35,-0.5),(2.36,-4.0,-1.0),(2.37,-1.2,0.8),(2.38,-0.5),(2.39,-1.0,-2.5),(2.40,-4.5,0.2),
(2.41,-9.0,-2.5,-0.5),(2.42,-10.5,-4.0,0.5),(2.43,-9.2,-1.5,1.5),(2.44,-5.5,-1.0),(2.45,-6.5,-2.0,0.5),(2.46,-4.2,-0.5,1.2),(2.47,-8.0,-1.5),(2.48,-6.2,-3.0,0.0),(2.49,-5.0,-1.0,1.5),(2.50,-6.5,-2.5,0.5),
(2.51,-4.5,-0.8,2.0),(2.52,-8.8,-2.0,0.5),(2.53,-10.2,-3.5,-0.5),(2.54,-7.5,-1.5,1.0),(2.55,-6.0,-0.5,2.2),(2.56,-4.0,-1.0,0.5),(2.57,-7.0,-2.5,1.5),(2.58,-3.5,-0.2,2.5),(2.59,-5.0,-1.5,0.8),(2.60,-2.5,0.5,3.0),
(2.61,-6.0,-1.0,1.5),(2.62,-3.0,0.0,3.2),(2.63,-4.5,-1.5,2.0),(2.64,-7.2,-0.5,2.8),(2.65,-2.5,1.0,3.5),(2.66,-5.5,-1.2,1.8),(2.67,-3.8,0.2,3.0),(2.68,-2.0,1.5,2.5),(2.69,-4.5,-0.8,1.0),(2.70,-1.5,0.5),
(2.71,-5.5,-1.0,0.8),(2.72,-5.8,-2.0,1.2),(2.73,-3.0,-0.5),(2.74,-2.5,0.5,1.5),(2.75,-1.0,0.2),(2.76,-1.5,0.8),(2.77,-0.5),(2.78,-1.2,0.5),(2.79,-0.8,1.0),(2.80,-0.5,0.2),
(2.81,-1.5,0.5),(2.82,-0.8,1.2),(2.83,-1.0),(2.84,-2.0,0.2),(2.85,-0.5,1.0),(2.86,-1.5),(2.87,-0.8,0.8),(2.88,-2.5,-0.2),(2.89,-1.0,0.5),(2.90,-2.0,1.0),
(2.91,-1.5,0.5),(2.92,-3.0,-0.5,1.2),(2.93,-1.0,0.8),(2.94,-2.5,0.0),(2.95,-1.2,1.5),(2.96,-3.5,-0.5),(2.97,-5.0,-1.5,0.5),(2.98,-7.5,-2.0,2.0),(2.99,-7.2,-1.0,0.8),(3.00,-3.0,-0.5,1.5),
(3.01,-4.5,-1.2,1.0),(3.02,-2.5,0.5,2.2),(3.03,-9.0,-1.5,0.8),(3.04,-10.5,-3.0,-0.5),(3.05,-9.2,-1.0,1.5),(3.06,-4.5,-0.5,2.0),(3.07,-2.0,0.8),(3.08,-5.0,-1.5,1.2),(3.09,-3.5,-0.2,1.8),(3.10,-7.0,-1.0,2.5),
(3.11,-7.8,-2.0,0.5),(3.12,-4.2,-0.8,2.0),(3.13,-5.5,-1.5,1.0),(3.14,-4.5,-0.5,1.5),(3.15,-2.5,0.8),(3.16,-4.5,-1.2),(3.17,-1.5,0.5),(3.18,-4.5,-0.8,1.2),(3.19,-2.0,0.2),(3.20,-4.5,-1.0,1.0),
(3.21,-1.5,0.5),(3.22,-4.2,-0.8),(3.23,-1.2,1.5),(3.24,-2.0,0.2),(3.25,-0.5,0.8),(3.26,-1.8),(3.27,-1.0,0.5),(3.28,-1.5),(3.29,-2.5,-0.5),(3.30,-1.0,1.5),
(3.31,-1.5,-0.2),(3.32,-4.2,-1.0,1.0),(3.33,-0.5,0.5),(3.34,-1.2),(3.35,-2.0,-0.5),(3.36,-1.0,1.0),(3.37,-4.2,-0.8),(3.38,-1.5,2.0),(3.39,-0.5,2.5),(3.40,-6.5,-2.0,0.5),
(3.41,-10.0,-7.0,-1.5,1.0),(3.42,-10.8,-8.0,-3.0),(3.43,-9.0,-5.0,-0.8),(3.44,-7.5,-2.0,0.5),(3.45,-8.5,-6.0,-1.2),(3.46,-9.5,-4.0,0.2),(3.47,-7.0,-2.5,1.5),(3.48,-6.0,-1.0,0.5),(3.49,-8.0,-3.5,-0.5),(3.50,-5.5,-1.5,1.2),
(3.51,-4.0,-0.5,2.0),(3.52,-6.5,-2.0,1.0),(3.53,-11.0,-3.5,0.5),(3.54,-10.5,-4.5,-1.0),(3.55,-12.9,-11.5,-2.5,1.0),(3.56,-12.0,-5.0,0.2),(3.57,-4.5,-1.5,2.2),(3.58,-3.0,-0.5,1.5),(3.59,-9.2,-1.0,0.8),(3.60,-5.5,-2.0,2.5),
(3.61,-3.5,0.5,2.8),(3.62,-5.0,-1.0,1.8),(3.63,-2.0,1.2,3.5),(3.64,-6.0,-0.5,4.5),(3.65,-2.5,1.5,3.0),(3.66,-4.0,0.0,2.5),(3.67,-7.0,-1.5,3.2),(3.68,-1.5,1.0,2.0),(3.69,-3.0,0.5,2.8),(3.70,-0.5,1.8),
(3.71,5.3,-1.0,2.5),(3.72,4.5,-3.5,1.0),(3.73,-2.5,0.5,2.2),(3.74,-1.0,1.5),(3.75,-5.0,-0.5,1.0),(3.76,-1.5,0.8),(3.77,-3.0,0.0),(3.78,-0.5,1.5),(3.79,-1.2,0.5),(3.80,-0.5,1.0),
(3.81,1.5,-0.5),(3.82,0.5,-1.2),(3.83,2.5,-0.2),(3.84,1.0,-1.0),(3.85,-5.0,0.5),(3.86,1.8,-0.5),(3.87,0.2,-1.5),(3.88,3.2,0.8),(3.89,-0.8,1.2),(3.90,-3.5,0.5),
(3.91,-3.5,-0.5,1.5),(3.92,1.0,-1.2),(3.93,-0.2,2.0),(3.94,-2.5,0.5),(3.95,-7.5,-1.0,1.2),(3.96,-0.5,2.5),(3.97,-3.0,0.8),(3.98,-8.5,-1.5,1.8),(3.99,-0.8,1.0),(4.00,-2.0,0.2,2.0),
(4.01,-8.0,-1.0,1.5),(4.02,-6.5,-2.5,0.5),(4.03,-9.2,-0.5,2.0),(4.04,-3.5,0.2,1.2),(4.05,-8.5,-1.5,0.8),(4.06,-4.5,-0.5,1.8),(4.07,-2.0,0.5,2.5),(4.08,-6.5,-1.0,1.0),(4.09,-5.0,-0.2,2.0),(4.10,-7.0,-1.5,0.5),
(4.11,5.7,-3.0,0.5),(4.12,-5.5,-1.0,1.5),(4.13,-7.0,-0.5,2.5),(4.14,-3.5,0.8,3.2),(4.15,-6.8,-1.5,1.0),(4.16,-4.0,0.0,2.0),(4.17,-2.5,0.5,1.2),(4.18,-7.0,-1.0),(4.19,-3.5,0.2,2.0),(4.20,-2.0,-0.5,1.0),
(4.21,-4.0,-1.0,1.5),(4.22,-1.5,0.5,2.5),(4.23,-3.5,-0.5),(4.24,-1.0,1.0),(4.25,-2.0,0.2),(4.26,-1.5,0.8),(4.27,-0.8,-2.0),(4.28,-1.2,0.5),(4.29,-0.5),(4.30,-1.0,0.2),
(4.31,-1.5,0.0),(4.32,-0.8,0.5),(4.33,-1.2,-2.0),(4.34,-0.5,0.2),(4.35,-9.5,-1.5,-0.8),(4.36,-2.5,-0.2),(4.37,-9.2,-1.0,0.5),(4.38,-3.0,-0.5),(4.39,-9.5,-1.8,0.8),(4.40,-4.5,-1.0),
(4.41,-9.0,-2.0,0.5),(4.42,-5.0,-1.0,1.0),(4.43,-7.5,-3.0,-0.5),(4.44,-4.0,-1.5,0.8),(4.45,-6.5,-2.5,1.2),(4.46,-9.8,-4.5,-0.5),(4.47,-6.0,-2.0,0.5),(4.48,-10.2,-5.0,-1.0),(4.49,-6.2,-3.0,1.0),(4.50,-5.5,-1.5,1.5),
(4.51,-9.0,-4.0,-0.5),(4.52,-11.5,-6.0,-1.5),(4.53,-10.5,-5.5,0.5),(4.54,-7.0,-3.0,1.5),(4.55,-5.0,-1.0,2.0),(4.56,-8.0,-2.5,1.0),(4.57,-6.5,-1.5,2.2),(4.58,-4.0,0.0,1.5),(4.59,-7.5,-2.0,2.5),(4.60,-5.5,-0.5,1.2),
(4.61,-7.5,-1.5,1.5),(4.62,-4.5,0.5,2.8),(4.63,-2.5,1.0,3.5),(4.64,-5.0,-0.5,2.2),(4.65,-6.0,0.8,4.5),(4.66,-1.5,1.5,3.0),(4.67,-8.2,-2.0,2.5),(4.68,-3.5,0.2,4.0),(4.69,-1.0,2.0,3.2),(4.70,-5.0,1.0,5.0),
(4.71,8.1,3.0,-1.5),(4.72,6.9,2.5,0.5),(4.73,5.3,1.5,-9.0),(4.74,2.8,0.0,-3.5),(4.75,-6.0,1.8),(4.76,-1.5,2.2),(4.77,0.5,1.5),(4.78,-0.5,2.0),(4.79,-1.0,1.0),(4.80,4.8,0.2,2.5),
(4.81,-1.0,1.8),(4.82,-0.5,2.2),(4.83,-1.5,1.0),(4.84,0.5,2.0),(4.85,-2.5,-0.8),(4.86,-3.0,0.5,1.5),(4.87,-0.5,1.2),(4.88,-2.0,0.8),(4.89,-1.2,1.5),(4.90,-2.5,0.2),
(4.91,-3.5,-0.5,1.0),(4.92,-5.0,0.5),(4.93,-2.0,-0.5,1.5),(4.94,-6.0,0.2),(4.95,-9.0,-1.0,2.0),(4.96,-7.5,-0.5,1.0),(4.97,-3.0,0.8),(4.98,-9.3,-1.5,0.5),(4.99,-5.5,-0.5,1.2),(5.00,-1.0,0.5,-9.5),
]

panel_titles = [
    "COSMIC VTEC data temporal distribution 20/07/06 -- 24/07/06\n(3,637 observations)",
    "IRI VTEC data temporal distribution 20/07/06 -- 24/07/06",
    "deviations 20/07/06 -- 24/07/06",
]
panel_colors = ["#cc1f2b", "#2e3f95", "#3bb54a"]
panel_ylims = [(0, 40), (0, 40), (-20, 20)]
x_ticks = [0, 1, 2, 3, 4, 5]
x_label = "time [ days from 20/07/06 ]"
y_label = "VTEC [ TECU ]"


def to_frame(obs):
    t, v = [], []
    for row in obs:
        for val in row[1:]:
            t.append(row[0])
            v.append(val)
    return pd.DataFrame({"time": t, "vtec": v})


sns.set_theme(style="white")
plt.rcParams["font.family"] = ["Liberation Sans", "DejaVu Sans"]
plt.rcParams["axes.unicode_minus"] = False
INK = "#231f20"

fig = plt.figure(figsize=(7.78, 10.95), dpi=100)
positions = [[0.1037, 0.7361, 0.8796, 0.2502],
             [0.1037, 0.3954, 0.8796, 0.2502],
             [0.1037, 0.0548, 0.8796, 0.2502]]
title_x = [0.028, 0.028, 0.021]
title_size = [14.2, 15.0, 15.0]

for i, obs in enumerate([cosmic_obs, iri_obs, dev_obs]):
    ax = fig.add_axes(positions[i])
    df = to_frame(obs)
    sns.scatterplot(data=df, x="time", y="vtec", marker="+", color=panel_colors[i],
                    s=46, linewidth=1.4, alpha=0.95, legend=False, ax=ax)
    ax.set_xlim(0, 5)
    ax.set_ylim(*panel_ylims[i])
    ax.set_xticks(x_ticks)
    ax.xaxis.set_minor_locator(MultipleLocator(0.5))
    ax.yaxis.set_major_locator(MultipleLocator(10))
    ax.yaxis.set_minor_locator(MultipleLocator(5))
    ax.tick_params(which="both", direction="out", top=True, right=True,
                   labeltop=False, labelright=False, color=INK, width=1.0,
                   labelsize=14.5, labelcolor=INK)
    ax.tick_params(which="major", length=6, pad=4)
    ax.tick_params(which="minor", length=3.5)
    for sp in ax.spines.values():
        sp.set_color(INK)
        sp.set_linewidth(1.0)
    ax.set_xlabel(x_label, fontsize=15.5, color=INK)
    ax.set_ylabel(y_label, fontsize=15.5, color=INK)
    ax.xaxis.set_label_coords(0.509, -0.13)
    ax.yaxis.set_label_coords(-0.066, 0.535)
    ax.text(title_x[i], 0.935, panel_titles[i], transform=ax.transAxes,
            ha="left", va="top", fontsize=title_size[i], fontweight="bold", color=INK,
            linespacing=1.3)

fig.savefig("out.png", dpi=100)
